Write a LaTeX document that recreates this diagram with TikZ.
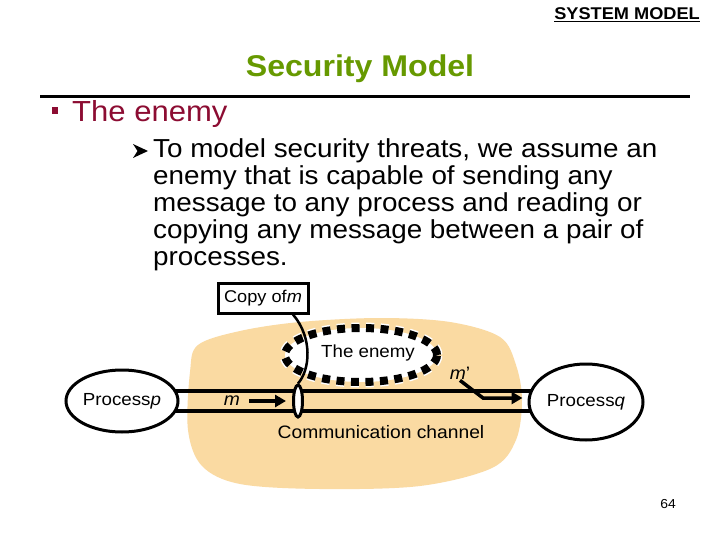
\documentclass[tikz,border=0pt]{standalone}
\usepackage{fontspec}
\setmainfont{Liberation Sans}[FakeStretch=1.07]
\usetikzlibrary{arrows.meta,shapes.geometric}
\pgfdeclarelayer{bg}
\pgfdeclarelayer{mid}
\pgfsetlayers{bg,mid,main}
\definecolor{blobc}{RGB}{250,218,162}
\definecolor{titlegreen}{RGB}{102,153,0}
\definecolor{maroon}{RGB}{140,12,50}
\newcommand\fsz[1]{\fontsize{#1}{#1}\selectfont}
\tikzset{
  proc/.style={ellipse, draw, line width=3pt, fill=white, inner sep=0pt, font=\fsz{17.5}},
  fatarrow/.style={line width=3.5pt, -{Triangle[length=11pt,width=12pt]}},
  chan/.style={line width=4pt},
  txt/.style={inner sep=0pt, anchor=base west},
}
\begin{document}
\begin{tikzpicture}[x=1pt,y=-1pt]
\useasboundingbox (0,0) rectangle (720,540);
\begin{pgfonlayer}{bg}
\fill[white] (0,0) rectangle (720,540);
\fill[blobc] plot[smooth cycle, tension=0.55] coordinates {(198,345) (240,331) (300,322) (380,318) (450,322) (500,337) (516,365) (522,400) (516,440) (492,468) (420,486) (320,489) (240,484) (202,466) (188,430) (190,372)};
\end{pgfonlayer}

% header
\node[inner sep=0pt, anchor=base east, font=\fsz{17}\bfseries] (sys) at (700,20) {\underline{SYSTEM MODEL}};
\node[inner sep=0pt, anchor=base, font=\fsz{30}\bfseries, text=titlegreen] (title) at (360,77) {Security Model};
\draw[line width=3pt] (40,96.5) -- (690,96.5);

% bullet 1
\fill[maroon] (52,107) rectangle (58,114);
\node[txt, font=\fsz{29}, text=maroon] (b1) at (72,122) {The enemy};

% bullet 2
\fill[black] (133,144) -- (148,151) -- (133,158) -- (137.5,151) -- cycle;
\node[txt, font=\fsz{26}] (l1) at (153,157.7) {To model security threats, we assume an};
\node[txt, font=\fsz{26}] (l2) at (153,184.7) {enemy that is capable of sending any};
\node[txt, font=\fsz{26}] (l3) at (153,211.7) {message to any process and reading or};
\node[txt, font=\fsz{26}] (l4) at (153,238.7) {copying any message between a pair of};
\node[txt, font=\fsz{26}] (l5) at (153,265.7) {processes.};

% diagram
\node[proc, minimum width=112pt, minimum height=62pt] (pp) at (122,401) {Process\textit{p}};
\node[proc, minimum width=114pt, minimum height=76pt] (qq) at (586,402) {Process\textit{q}};
\begin{pgfonlayer}{mid}
\draw[chan] ([yshift=10pt]pp.center) -- ([yshift=10pt]pp.center -| qq.center);
\draw[chan] ([yshift=-10pt]pp.center) -- ([yshift=-10pt]pp.center -| qq.center);
\end{pgfonlayer}

\node[ellipse, minimum width=152pt, minimum height=54pt, inner sep=0pt, fill=white,
      preaction={draw=white, line width=11pt},
      draw=black, line width=8pt, dash pattern=on 8pt off 6.5pt] (enemy) at (361,355) {};
\node[inner sep=0pt, font=\fsz{17.5}] (enemytext) at (368,353) {The enemy};

\node[draw, line width=3pt, fill=white, minimum width=90pt, minimum height=30pt, inner sep=0pt, font=\fsz{17}] (copy) at (263,298) {Copy of\textit{m}};

\node[ellipse, draw, line width=3pt, fill=white, minimum width=9pt, minimum height=32pt, inner sep=0pt] (tap) at (298,401) {};
\draw[line width=2.5pt] ([xshift=30pt]copy.south) .. controls (313,338) and (310,370) .. (tap.north);

\node[inner sep=1pt, font=\fsz{18}] (m1) at (232,401) {\textit{m}};
\draw[fatarrow, shorten <=8pt, shorten >=6pt] (m1.east) -- (tap.west);

\node[inner sep=1pt, font=\fsz{18}] (mp) at (460,373) {\textit{m}'};
\coordinate (bend) at (483,398);
\draw[fatarrow, shorten >=5pt] (mp.south) -- (bend) -- (bend -| qq.west);

\node[inner sep=0pt, font=\fsz{18}] (cc) at (381,432) {Communication channel};
\node[inner sep=0pt, font=\fsz{13}] (pg) at (668,504) {64};
\end{tikzpicture}
\end{document}
